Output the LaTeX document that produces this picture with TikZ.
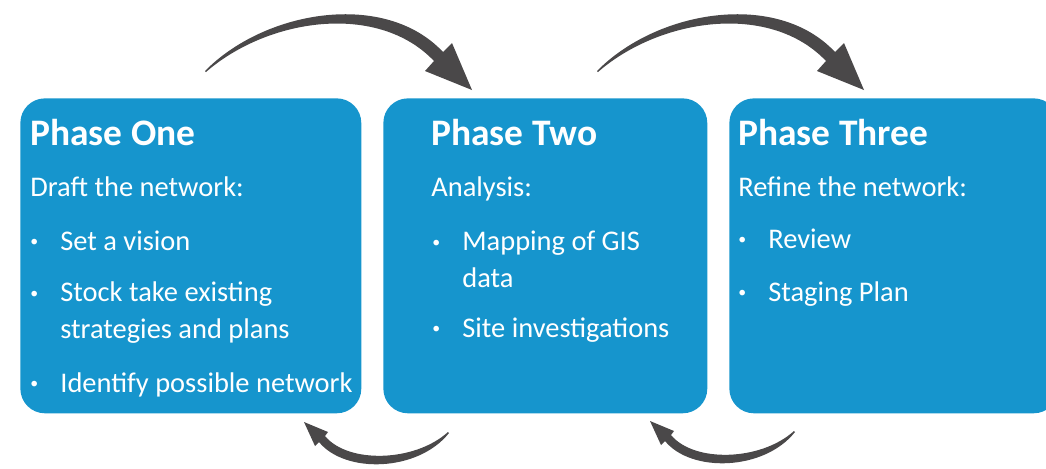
\documentclass[tikz,border=0pt]{standalone}
\usepackage{fontspec}
\setmainfont{Carlito}
\usetikzlibrary{positioning}
\definecolor{phaseblue}{RGB}{22,149,205}
\definecolor{arrowgrey}{RGB}{74,72,73}
\tikzset{
  phase/.style = {rectangle, rounded corners=14pt, fill=phaseblue,
                  inner sep=0pt, anchor=north west},
  title/.style = {anchor=base west, inner sep=0pt, text=white,
                  font=\fontsize{21.3}{24}\selectfont\bfseries},
  lead/.style  = {anchor=base west, inner sep=0pt, text=white,
                  font=\fontsize{16.2}{20.5}\selectfont},
  point/.style = {lead, align=left},
  toparrow/.pic = {\fill[arrowgrey] (0,0) .. controls (60,-61) and (180,-81) .. (238,-19)
                   -- (247,-28) -- (267,19) -- (220,0) -- (229,-10)
                   .. controls (173,-69) and (63,-53) .. (1,1) -- cycle;},
  backarrow/.pic = {\fill[arrowgrey] (0,0) .. controls (-31,39) and (-104,41) .. (-130,9)
                   -- (-134,13) -- (-145,-11) -- (-121,-1) -- (-124,3)
                   .. controls (-101,31) and (-34,29) .. (-1,-1) -- cycle;}
}
\newcommand{\bul}{\llap{\makebox[17pt][l]{\raisebox{2pt}{\fontsize{9}{9}\selectfont\textbullet}}}}

\begin{document}
\begin{tikzpicture}[x=0.02cm, y=-0.02cm]
    \useasboundingbox (0,0) rectangle (1046,468);

    %Boxes
    \node (PhaseOne) [phase, minimum width=6.82cm, minimum height=6.3cm] at (20,98) {};
    \node (PhaseTwo) [phase, minimum width=6.48cm, minimum height=6.3cm] at (383,98) {};
    \node (PhaseThree) [phase, minimum width=6.58cm, minimum height=6.3cm] at (729,98) {};

    %Phase one text (two-line items sit on their last line)
    \node (TitleOne) [title] at (30,145) {Phase One};
    \node (LeadOne) [lead] at (30,196) {Draft the network:};
    \node (One1) [point] at (60,250) {\bul Set a vision};
    \node (One2) [point] at (60,338) {\bul Stock take existing\\strategies and plans};
    \node (One3) [point] at (60,392) {\bul Identify possible network};

    %Phase two text
    \node (TitleTwo) [title] at (431,145) {Phase Two};
    \node (LeadTwo) [lead] at (431,196) {Analysis:};
    \node (Two1) [point] at (462,287) {\bul Mapping of GIS\\data};
    \node (Two2) [point] at (462,337) {\bul Site investigations};

    %Phase three text
    \node (TitleThree) [title] at (738,145) {Phase Three};
    \node (LeadThree) [lead] at (738,196) {Refine the network:};
    \node (Three1) [point] at (768,248) {\bul Review};
    \node (Three2) [point] at (768,301) {\bul Staging Plan};

    %Arrows over the top
    \pic at (205,71) {toparrow};
    \pic at (597,71) {toparrow};

    %Arrows back underneath
    \pic at (449,433) {backarrow};
    \pic at (795,432) {backarrow};

\end{tikzpicture}
\end{document}
